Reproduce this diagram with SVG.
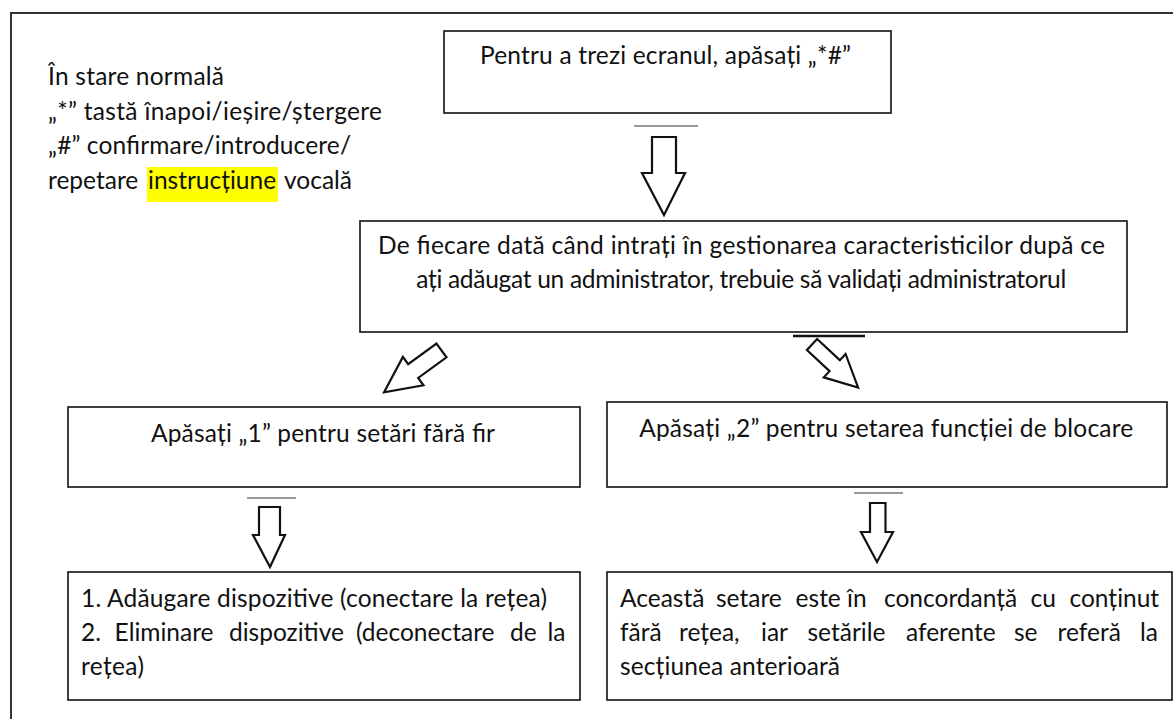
<svg xmlns="http://www.w3.org/2000/svg" width="1173" height="719" viewBox="0 0 1173 719">
<defs>
<style>
.t{font-family:Lato,"Liberation Sans",sans-serif;font-size:24.5px;fill:#111}
.box{fill:#fff;stroke:#111;stroke-width:1.6}
.arr{fill:#fff;stroke:#111;stroke-width:2.2;stroke-linejoin:miter}
.bar{stroke:#999;stroke-width:2}
.m{text-anchor:middle}
</style>
</defs>
<rect width="1173" height="719" fill="#fff"/>
<path d="M11,740 V13 H1190" fill="none" stroke="#333" stroke-width="2"/>
<g id="node-note">
<rect x="147" y="167" width="131" height="35" fill="#ffff00"/>
<text class="t" x="48" y="85" textLength="176" lengthAdjust="spacing">În stare normală</text>
<text class="t" x="48" y="119.5" textLength="334" lengthAdjust="spacing">„*” tastă înapoi/ieșire/ștergere</text>
<text class="t" x="48" y="154" textLength="303" lengthAdjust="spacing">„#” confirmare/introducere/</text>
<text class="t" y="188.5"><tspan x="48">repetare</tspan><tspan x="148">instrucțiune</tspan><tspan x="284">vocală</tspan></text>
</g>
<g id="node-wake">
<rect class="box" x="444" y="31" width="447" height="82"/>
<text class="t m" x="665.5" y="64" textLength="371" lengthAdjust="spacing">Pentru a trezi ecranul, apăsați „*#”</text>
</g>
<g id="node-validate">
<rect class="box" x="360" y="221" width="767" height="111"/>
<text class="t m" x="741.5" y="254" textLength="727" lengthAdjust="spacing">De fiecare dată când intrați în gestionarea caracteristicilor după ce</text>
<text class="t m" x="741.2" y="288" textLength="650" lengthAdjust="spacing">ați adăugat un administrator, trebuie să validați administratorul</text>
</g>
<g id="node-wireless">
<rect class="box" x="68" y="407" width="512" height="80"/>
<text class="t m" x="323" y="442" textLength="344" lengthAdjust="spacing">Apăsați „1” pentru setări fără fir</text>
</g>
<g id="node-lock">
<rect class="box" x="607" y="402" width="560" height="85"/>
<text class="t m" x="886.2" y="437" textLength="494" lengthAdjust="spacing">Apăsați „2” pentru setarea funcției de blocare</text>
</g>
<g id="node-devices">
<rect class="box" x="68" y="572" width="512" height="128"/>
<text class="t" x="81" y="607" textLength="466" lengthAdjust="spacing">1. Adăugare dispozitive (conectare la rețea)</text>
<text class="t" y="641"><tspan x="81">2.</tspan><tspan x="114.6">Eliminare</tspan><tspan x="229">dispozitive</tspan><tspan x="356">(deconectare</tspan><tspan x="510">de</tspan><tspan x="547.4">la</tspan></text>
<text class="t" x="81" y="675" textLength="63" lengthAdjust="spacing">rețea)</text>
</g>
<g id="node-offline">
<rect class="box" x="607" y="572" width="565" height="128"/>
<text class="t" y="607"><tspan x="620">Această</tspan><tspan x="716">setare</tspan><tspan x="795.6">este</tspan><tspan x="847">în</tspan><tspan x="884">concordanță</tspan><tspan x="1030.5">cu</tspan><tspan x="1069.5">conținut</tspan></text>
<text class="t" y="641"><tspan x="620">fără</tspan><tspan x="679">rețea,</tspan><tspan x="761">iar</tspan><tspan x="807.5">setările</tspan><tspan x="906">aferente</tspan><tspan x="1014">se</tspan><tspan x="1057.6">referă</tspan><tspan x="1140">la</tspan></text>
<text class="t" x="620" y="675" textLength="220" lengthAdjust="spacing">secțiunea anterioară</text>
</g>
<g id="connectors">
<line class="bar" x1="634" y1="126" x2="698" y2="126"/>
<polygon class="arr" points="652,137 676,137 676,173 685,173 664,215 642,173 652,173"/>
<polygon class="arr" points="-8.5,0 8.5,0 8.5,35 17.5,35 0,71 -17.5,35 -8.5,35" transform="translate(441.5,350.5) rotate(54)"/>
<line x1="793" y1="336" x2="865" y2="336" stroke="#111" stroke-width="2.5"/>
<polygon class="arr" points="-7.5,0 7.5,0 7.5,31 16,31 0,63 -16,31 -7.5,31" transform="translate(812,344.5) rotate(-47)"/>
<line class="bar" x1="247" y1="498" x2="296" y2="498"/>
<polygon class="arr" points="259,507 280,507 280,535 285,535 270,567 253,535 259,535"/>
<line class="bar" x1="854" y1="493" x2="903" y2="493"/>
<polygon class="arr" points="870,503 885.5,503 885.5,532 893,532 877,562 861,532 870,532"/>
</g>
</svg>
